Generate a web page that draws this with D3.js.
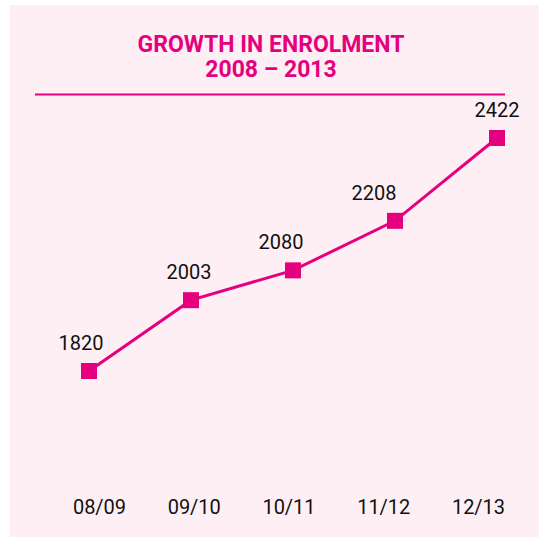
<!DOCTYPE html>
<html>
<head>
<meta charset="utf-8">
<script src="https://cdn.jsdelivr.net/npm/d3@7"></script>
<style>
  body { margin: 0; background: #fff; }
  svg { display: block; }
</style>
</head>
<body>
<svg id="chart"></svg>
<script>
// Data
const years = ["08/09", "09/10", "10/11", "11/12", "12/13"];
const enrolment = [1820, 2003, 2080, 2208, 2422];
const titleLines = ["GROWTH IN ENROLMENT", "2008 \u2013 2013"];

// Layout tweaks for the value labels (horizontal nudge, px)
const labelNudge = [-8, -2, -12, -21, 0];

const width = 539;
const height = 537;
const pink = "#e5007e";

const svg = d3.select("#chart").attr("width", width).attr("height", height);

// Panel background
svg.append("rect")
  .attr("x", 10).attr("y", 5)
  .attr("width", width - 10).attr("height", height - 5)
  .attr("fill", "#fdeff4");

// Title
svg.append("text")
  .attr("text-anchor", "middle")
  .style("font-family", "Roboto, sans-serif")
  .style("font-weight", "bold")
  .style("font-size", "23px")
  .attr("fill", pink)
  .selectAll("tspan")
  .data(titleLines)
  .enter()
  .append("tspan")
  .attr("x", 271)
  .attr("y", (d, i) => 52 + i * 25)
  .text((d) => d);

svg.append("line")
  .attr("x1", 35).attr("x2", 505)
  .attr("y1", 94.5).attr("y2", 94.5)
  .attr("stroke", pink)
  .attr("stroke-width", 2);

// Scales
const xScale = d3.scalePoint().domain(years).range([89, 497]);
const xLabelScale = d3.scalePoint().domain(years).range([99, 478]);
const yScale = d3.scaleLinear().domain([1820, 2422]).range([371, 138]);

const data = years.map((y, i) => ({ year: y, value: enrolment[i], nudge: labelNudge[i] }));

// Line
svg.append("path")
  .datum(data)
  .attr("fill", "none")
  .attr("stroke", pink)
  .attr("stroke-width", 3)
  .attr("d", d3.line().x((d) => xScale(d.year)).y((d) => yScale(d.value)));

// Markers
const size = 16;
svg.selectAll(".marker")
  .data(data)
  .enter()
  .append("rect")
  .attr("class", "marker")
  .attr("x", (d) => xScale(d.year) - size / 2)
  .attr("y", (d) => yScale(d.value) - size / 2)
  .attr("width", size)
  .attr("height", size)
  .attr("fill", pink);

// Value labels
svg.selectAll(".value")
  .data(data)
  .enter()
  .append("text")
  .attr("class", "value")
  .attr("x", (d) => xScale(d.year) + d.nudge)
  .attr("y", (d) => yScale(d.value) - 21)
  .attr("text-anchor", "middle")
  .style("font-family", "Roboto, sans-serif")
  .style("font-size", "20px")
  .attr("fill", "#111")
  .text((d) => d.value);

// X axis labels
const xAxis = svg.append("g")
  .attr("transform", "translate(0,514)")
  .call(d3.axisBottom(xLabelScale).tickSize(0).tickPadding(0));
xAxis.select(".domain").remove();
xAxis.selectAll("text")
  .attr("y", 0)
  .attr("dy", 0)
  .style("font-family", "Roboto, sans-serif")
  .style("font-size", "20px")
  .attr("fill", "#111");
</script>
</body>
</html>
